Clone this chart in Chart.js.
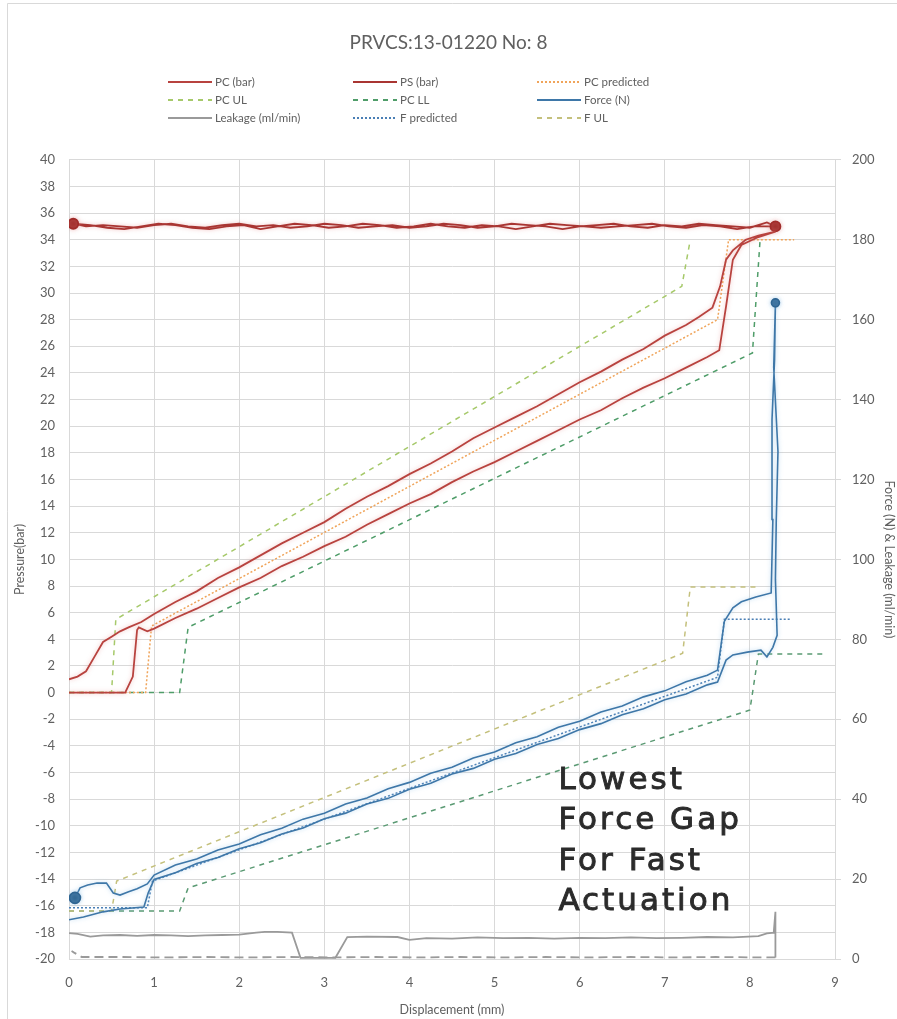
<!DOCTYPE html>
<html>
<head>
<meta charset="utf-8">
<title>PRVCS:13-01220 No: 8</title>
<script src="https://cdn.jsdelivr.net/npm/chart.js@4.4.1/dist/chart.umd.min.js"></script>
<style>
  html, body { margin: 0; padding: 0; background: #fff; }
  canvas { display: block; }
</style>
</head>
<body>
<canvas id="myChart" width="897" height="1019"></canvas>
<script>
// ---- data ----
const chartTitle = 'PRVCS:13-01220 No: 8';
const xTitle = 'Displacement (mm)';
const yTitle = 'Pressure(bar)';
const y1Title = 'Force (N) & Leakage (ml/min)';
const noteLines = ['Lowest', 'Force Gap', 'For Fast', 'Actuation'];

// PC (bar): up stroke then return stroke
const pcX = [0, 0.1, 0.2, 0.3, 0.4, 0.5, 0.6, 0.7, 0.85,
  1.0, 1.25, 1.5, 1.75, 2.0, 2.25, 2.5, 2.75, 3.0, 3.25, 3.5, 3.75, 4.0, 4.25, 4.5, 4.75, 5.0, 5.25, 5.5, 5.75, 6.0, 6.25, 6.5, 6.75, 7.0, 7.25,
  7.4, 7.56, 7.65, 7.72, 7.8, 7.95, 8.1, 8.3,
  8.1, 7.9, 7.8, 7.72, 7.64,
  7.5, 7.25, 7.0, 6.75, 6.5, 6.25, 6.0, 5.75, 5.5, 5.25, 5.0, 4.75, 4.5, 4.25, 4.0, 3.75, 3.5, 3.25, 3.0, 2.75, 2.5, 2.25, 2.0, 1.75, 1.5, 1.25, 1.0,
  0.92, 0.82, 0.8, 0.75, 0.66, 0.4, 0];
const pcY = [1.0, 1.2, 1.6, 2.7, 3.8, 4.2, 4.6, 4.9, 5.3,
  5.9, 6.8, 7.6, 8.6, 9.4, 10.3, 11.2, 12.0, 12.8, 13.8, 14.7, 15.5, 16.4, 17.2, 18.1, 19.1, 19.9, 20.7, 21.5, 22.4, 23.3, 24.1, 25.0, 25.8, 26.8, 27.6,
  28.2, 28.9, 30.5, 32.5, 33.2, 34.0, 34.3, 34.6,
  34.2, 33.6, 32.5, 29.0, 25.7,
  25.2, 24.4, 23.6, 22.9, 22.1, 21.2, 20.5, 19.7, 18.9, 18.1, 17.3, 16.6, 15.8, 14.9, 14.2, 13.4, 12.6, 11.7, 11.0, 10.2, 9.5, 8.6, 7.9, 7.1, 6.3, 5.6, 4.8,
  4.6, 4.9, 4.7, 1.2, 0, 0, 0];

// PS (bar): supply pressure, out and back
const psX = [0.05, 0.25, 0.45, 0.65, 0.85, 1.05, 1.25, 1.45, 1.65, 1.85, 2.05, 2.25, 2.45, 2.65, 2.85, 3.05, 3.25, 3.45, 3.65, 3.85, 4.05,
  4.25, 4.45, 4.65, 4.85, 5.05, 5.25, 5.45, 5.65, 5.85, 6.05, 6.25, 6.45, 6.65, 6.85, 7.05, 7.25, 7.45, 7.65, 7.85, 8.05, 8.3,
  8.2, 8.0, 7.8, 7.6, 7.4, 7.2, 7.0, 6.8, 6.6, 6.4, 6.2, 6.0, 5.8, 5.6, 5.4, 5.2, 5.0, 4.8, 4.6, 4.4, 4.2,
  4.0, 3.8, 3.6, 3.4, 3.2, 3.0, 2.8, 2.6, 2.4, 2.2, 2.0, 1.8, 1.6, 1.4, 1.2, 1.0, 0.8, 0.6, 0.4, 0.2, 0.05];
const psY = [35.2, 35.1, 34.9, 34.8, 35.0, 35.2, 35.1, 34.9, 34.8, 35.0, 35.1, 34.8, 35.0, 35.2, 35.1, 34.9, 35.0, 35.2, 35.1, 34.9, 35.0,
  35.2, 35.0, 34.9, 35.1, 35.0, 34.8, 35.0, 35.2, 35.1, 35.0, 34.9, 35.0, 35.1, 35.2, 35.0, 34.9, 35.1, 35.0, 34.8, 35.0, 35.0,
  35.3, 34.9, 35.0, 35.1, 35.2, 35.0, 35.1, 34.9, 35.0, 35.2, 35.1, 35.0, 34.8, 35.0, 35.1, 35.2, 35.0, 34.9, 35.1, 35.2, 35.0,
  34.9, 35.1, 35.0, 34.9, 35.1, 35.2, 35.0, 34.9, 35.1, 35.0, 35.2, 35.1, 34.9, 35.0, 35.2, 35.1, 34.9, 35.0, 35.1, 35.0, 35.2];

const pcPredX = [0, 0.9, 0.97, 7.62, 7.75, 8.52];
const pcPredY = [0, 0, 5.0, 28.0, 34.0, 34.0];
const pcUlX = [0, 0.5, 0.55, 7.2, 7.3];
const pcUlY = [0, 0, 5.5, 30.5, 34.0];
const pcLlX = [0, 1.3, 1.4, 8.03, 8.12];
const pcLlY = [0, 0, 4.9, 25.5, 34.0];

// Force (N): right axis, out and back
const forceX = [0.07, 0.13, 0.22, 0.33, 0.44, 0.52, 0.6, 0.7, 0.8, 0.92,
  1.0, 1.25, 1.5, 1.75, 2.0, 2.25, 2.5, 2.75, 3.0, 3.25, 3.5, 3.75, 4.0, 4.25, 4.5, 4.75, 5.0, 5.25, 5.5, 5.75, 6.0, 6.25, 6.5, 6.75, 7.0, 7.25, 7.5,
  7.62, 7.7, 7.8, 7.9, 8.07, 8.25, 8.27, 8.26, 8.29, 8.3,
  8.28, 8.33, 8.31, 8.3, 8.32, 8.27, 8.2, 8.13, 7.97, 7.8, 7.72, 7.62,
  7.5, 7.25, 7.0, 6.75, 6.5, 6.25, 6.0, 5.75, 5.5, 5.25, 5.0, 4.75, 4.5, 4.25, 4.0, 3.75, 3.5, 3.25, 3.0, 2.75, 2.5, 2.25, 2.0, 1.75, 1.5, 1.25, 1.0,
  0.93, 0.88, 0.6, 0.4, 0.17, 0.0];
const forceY = [15.3, 17.8, 18.5, 19.0, 19.0, 16.5, 16.0, 16.8, 17.6, 18.8,
  21.0, 23.5, 25.0, 27.3, 28.8, 31.1, 32.7, 35.0, 36.5, 38.8, 40.3, 42.6, 44.2, 46.5, 48.0, 50.3, 51.8, 54.1, 55.6, 58.0, 59.5, 61.8, 63.3, 65.6, 67.1, 69.4, 71.0,
  72.3, 84.5, 87.9, 89.4, 90.6, 91.6, 110, 135, 150, 164.2,
  148, 127, 110, 95, 81, 78, 75.6, 77.3, 76.8, 76.1, 74.8, 69.3,
  68.6, 66.3, 64.9, 62.6, 61.1, 58.9, 57.4, 55.2, 53.7, 51.4, 50.0, 47.7, 46.3, 44.0, 42.5, 40.2, 38.8, 36.5, 35.1, 32.8, 31.3, 29.1, 27.6, 25.4, 23.9, 21.6, 19.9,
  16.5, 13.0, 12.5, 11.8, 10.5, 9.8];

// Leakage (ml/min): right axis, out and back
const leakX = [0, 0.1, 0.25, 0.4, 0.6, 0.8, 1.0, 1.2, 1.4, 1.6, 1.8, 2.0, 2.2, 2.3, 2.45, 2.62, 2.72, 2.9, 3.13, 3.27,
  3.5, 3.86, 4.0, 4.2, 4.5, 4.8, 5.1, 5.4, 5.7, 6.0, 6.3, 6.6, 6.9, 7.2, 7.5, 7.8, 8.1, 8.2, 8.28, 8.3, 8.3,
  8.1, 7.6, 7.1, 6.6, 6.1, 5.6, 5.1, 4.6, 4.1, 3.6, 3.1, 2.6, 2.1, 1.6, 1.1, 0.6, 0.15, 0.06, 0.03];
const leakY = [6.5, 6.3, 5.6, 5.9, 6.0, 5.8, 6.0, 5.9, 5.7, 5.9, 6.0, 6.1, 6.6, 6.8, 6.8, 6.6, 0.3, 0.3, 0.3, 5.5,
  5.6, 5.5, 4.8, 5.2, 5.1, 5.4, 5.2, 5.3, 5.1, 5.3, 5.2, 5.4, 5.2, 5.3, 5.5, 5.4, 5.7, 6.4, 6.6, 11.8, 0.4,
  0.4, 0.5, 0.4, 0.5, 0.4, 0.5, 0.4, 0.5, 0.4, 0.5, 0.4, 0.5, 0.4, 0.5, 0.4, 0.5, 0.5, 1.6, 2.0];

const fPredX = [0, 0.92, 0.98, 7.62, 7.7, 8.48];
const fPredY = [12.8, 12.8, 19.5, 70.5, 85.0, 85.0];
const fUlX = [0, 0.5, 0.56, 7.21, 7.3, 8.1];
const fUlY = [12.0, 12.0, 19.5, 76.5, 93.1, 93.1];
const fLlX = [0, 1.3, 1.4, 8.0, 8.1, 8.9];
const fLlY = [12.0, 12.0, 17.8, 62.3, 76.3, 76.3];

// ---- helpers ----
const pts = (xs, ys) => xs.map((x, i) => ({ x: x, y: ys[i] }));
const psTurn = psX.indexOf(Math.max(...psX));
const forceTurn = forceY.indexOf(Math.max(...forceY));
const leakReturn = leakX.lastIndexOf(Math.max(...leakX));

const gridColor = '#d9d9d9';
const textColor = '#606060';
const tickFont = { family: 'Lato', size: 13 };
const axisTitleFont = { family: 'Lato', size: 12.5 };

// legend: 3 columns x 3 rows, dataset index per cell
const legendOrder = [0, 1, 2, 3, 4, 5, 6, 7, 8];
const legendCols = [168, 353, 537];
const legendRows = [82, 100, 118];

// soft halo round the measured lines (the picture is a blurred screenshot)
const glowColors = { 0: 'rgba(230,140,140,0.5)', 1: 'rgba(230,140,140,0.5)', 5: 'rgba(140,190,230,0.6)' };

// white background + thin frame
const framePlugin = {
  id: 'frame',
  beforeDraw(chart) {
    const c = chart.ctx;
    c.save();
    c.fillStyle = '#fff';
    c.fillRect(0, 0, chart.width, chart.height);
    c.strokeStyle = '#d9d9d9';
    c.lineWidth = 1;
    c.beginPath();
    c.moveTo(7.5, chart.height);
    c.lineTo(7.5, 3.5);
    c.lineTo(chart.width, 3.5);
    c.stroke();
    c.restore();
  }
};

const glowPlugin = {
  id: 'glow',
  beforeDatasetDraw(chart, args) {
    const g = glowColors[args.index];
    if (!g) return;
    chart.ctx.save();
    chart.ctx.shadowColor = g;
    chart.ctx.shadowBlur = 4;
  },
  afterDatasetDraw(chart, args) {
    if (glowColors[args.index]) chart.ctx.restore();
  }
};

// grid legend like the Excel one
const legendPlugin = {
  id: 'gridLegend',
  afterDraw(chart) {
    const c = chart.ctx;
    c.save();
    c.font = '11.5px Lato';
    c.fillStyle = textColor;
    c.textBaseline = 'middle';
    legendOrder.forEach((idx, i) => {
      const ds = chart.data.datasets[idx];
      const x = legendCols[i % 3];
      const y = legendRows[Math.floor(i / 3)];
      c.strokeStyle = ds.borderColor;
      c.lineWidth = 2;
      c.setLineDash(ds.borderDash || []);
      c.beginPath();
      c.moveTo(x, y);
      c.lineTo(x + 44, y);
      c.stroke();
      c.setLineDash([]);
      c.fillText(ds.label, x + 47, y);
    });
    c.restore();
  }
};

// the big text note inside the plot
const notePlugin = {
  id: 'note',
  afterDatasetsDraw(chart) {
    const c = chart.ctx;
    const xs = chart.scales.x, ys = chart.scales.y;
    c.save();
    c.font = '31px "DejaVu Sans"';
    c.fillStyle = '#2b2b2b';
    c.strokeStyle = '#2b2b2b';
    c.lineWidth = 0.9;
    c.textBaseline = 'alphabetic';
    if ('letterSpacing' in c) c.letterSpacing = '3px';
    noteLines.forEach((t, i) => {
      const px = xs.getPixelForValue(5.75);
      const py = ys.getPixelForValue(-7.2 - i * 3.05);
      c.fillText(t, px, py);
      c.strokeText(t, px, py);
    });
    c.restore();
  }
};

const ctx = document.getElementById('myChart').getContext('2d');
const myChart = new Chart(ctx, {
  type: 'line',
  data: {
    datasets: [
      { label: 'PC (bar)', data: pts(pcX, pcY), borderColor: '#b8433f', borderWidth: 1.8, yAxisID: 'y' },
      {
        label: 'PS (bar)', data: pts(psX, psY), borderColor: '#a93532', borderWidth: 1.8, yAxisID: 'y',
        pointRadius: c => (c.dataIndex === 0 || c.dataIndex === psTurn) ? 5 : 0,
        pointBackgroundColor: '#a02c2a', pointBorderColor: '#a02c2a'
      },
      { label: 'PC predicted', data: pts(pcPredX, pcPredY), borderColor: '#f0a45a', borderWidth: 1.5, borderDash: [2, 2], yAxisID: 'y' },
      { label: 'PC UL', data: pts(pcUlX, pcUlY), borderColor: '#a6c96a', borderWidth: 1.5, borderDash: [5, 5], yAxisID: 'y' },
      { label: 'PC LL', data: pts(pcLlX, pcLlY), borderColor: '#4f9d69', borderWidth: 1.5, borderDash: [5, 5], yAxisID: 'y' },
      {
        label: 'Force (N)', data: pts(forceX, forceY), borderColor: '#3e77a8', borderWidth: 1.6, yAxisID: 'y1',
        pointRadius: c => c.dataIndex === 0 ? 5.5 : (c.dataIndex === forceTurn ? 4 : 0),
        pointBackgroundColor: '#2f6592', pointBorderColor: '#2f6592'
      },
      {
        label: 'Leakage (ml/min)', data: pts(leakX, leakY), borderColor: '#9a9a9a', borderWidth: 1.8, yAxisID: 'y1',
        segment: { borderDash: c => c.p0DataIndex >= leakReturn ? [9, 5] : undefined }
      },
      { label: 'F predicted', data: pts(fPredX, fPredY), borderColor: '#4a7fb5', borderWidth: 1.5, borderDash: [2, 2], yAxisID: 'y1' },
      { label: 'F UL', data: pts(fUlX, fUlY), borderColor: '#c4c07c', borderWidth: 1.5, borderDash: [5, 5], yAxisID: 'y1' },
      { label: 'F LL', data: pts(fLlX, fLlY), borderColor: '#5a9a73', borderWidth: 1.5, borderDash: [5, 5], yAxisID: 'y1' }
    ]
  },
  options: {
    responsive: false,
    animation: false,
    layout: { padding: 0 },
    elements: { line: { tension: 0 }, point: { radius: 0, hoverRadius: 0 } },
    plugins: {
      legend: { display: false },
      tooltip: { enabled: false },
      title: {
        display: true,
        text: chartTitle,
        color: textColor,
        font: { family: 'Lato', size: 19, weight: 'normal' },
        padding: { top: 31, bottom: 106 }
      }
    },
    scales: {
      x: {
        type: 'linear', min: 0, max: 9,
        ticks: { stepSize: 1, padding: 16, color: textColor, font: tickFont },
        grid: { color: gridColor, drawTicks: false },
        border: { color: gridColor },
        title: { display: true, text: xTitle, color: textColor, font: axisTitleFont, padding: { top: 0, bottom: 1.5 } },
        afterFit: s => { s.height = 60; }
      },
      y: {
        position: 'left', min: -20, max: 40,
        ticks: { stepSize: 2, maxTicksLimit: 100, padding: 14, color: textColor, font: tickFont },
        grid: { color: gridColor, drawTicks: false },
        border: { color: gridColor },
        title: { display: true, text: yTitle, color: textColor, font: axisTitleFont, padding: { top: 12.5, bottom: 0 } },
        afterFit: s => { s.width = 69; }
      },
      y1: {
        position: 'right', min: 0, max: 200,
        ticks: { stepSize: 20, maxTicksLimit: 100, padding: 11, color: textColor, font: tickFont },
        grid: { color: gridColor, drawOnChartArea: false, tickLength: 6 },
        border: { color: gridColor },
        title: { display: true, text: y1Title, color: textColor, font: axisTitleFont, padding: { top: 0, bottom: 0 } },
        afterFit: s => { s.width = 62; }
      }
    }
  },
  plugins: [framePlugin, glowPlugin, legendPlugin, notePlugin]
});
</script>
</body>
</html>
